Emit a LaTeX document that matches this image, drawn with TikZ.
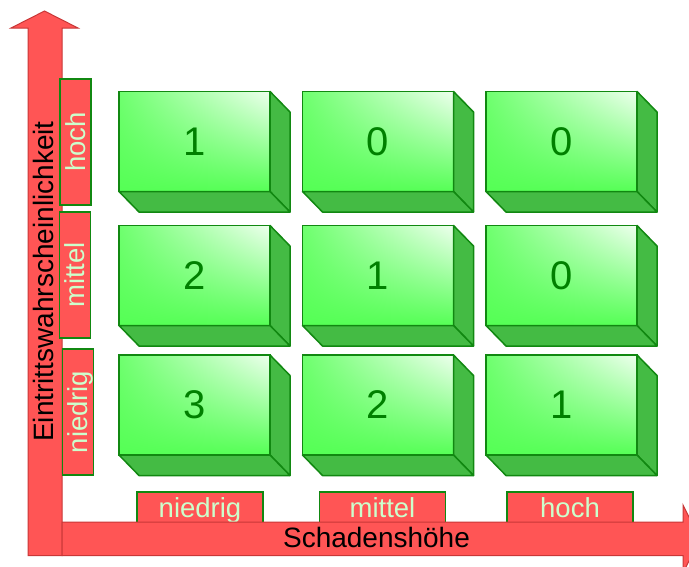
\documentclass[tikz,border=0pt]{standalone}
\usepackage{fontspec}
\setmainfont{Liberation Sans}
\usetikzlibrary{positioning,calc,shadings}
\definecolor{axisred}{HTML}{FF5555}
\definecolor{axisline}{HTML}{C83737}
\definecolor{boxline}{HTML}{118811}
\definecolor{boxside}{HTML}{44BB44}
\definecolor{boxlight}{HTML}{55FF55}
\definecolor{boxglow}{HTML}{EEFFEE}
\definecolor{labeltext}{HTML}{CCFFCC}
\definecolor{numtext}{HTML}{008000}

\begin{document}
\begin{tikzpicture}[
  x=1pt, y=-1pt,
  every node/.style={inner sep=0pt, outer sep=0pt},
  axis/.style={fill=axisred, draw=axisline, line width=1pt},
  axislabel/.style={text height=20pt, text depth=0pt, font=\fontsize{28}{30}\selectfont, text=black},
  level/.style={rectangle, fill=axisred, draw=boxline, line width=1.5pt,
    minimum width=126pt, minimum height=31pt, text height=19.5pt, text depth=0pt,
    font=\fontsize{27.5}{30}\selectfont, text=labeltext},
  front/.style={rectangle, draw=boxline, line width=1.5pt, shade,
    upper left=boxlight!85!white, upper right=boxglow, lower left=boxlight, lower right=boxlight,
    minimum width=151pt, minimum height=100pt, font=\fontsize{40}{44}\selectfont, text=numtext},
  side/.style={fill=boxside, draw=boxline, line width=1.5pt, line join=round},
]
\useasboundingbox (0,0) rectangle (689,566);

% Vertical axis
\filldraw[axis] (28,555.5) -- (28,28) -- (11,28) -- (44.5,11) -- (78,28) -- (62,28) -- (62,555.5) -- cycle;

% Probability levels
\node[level, rotate=90] (yhoch) at (75.5,142) {hoch};
\node[level, rotate=90] (ymittel) at (75,275) {mittel};
\node[level, rotate=90] (yniedrig) at (78,412) {niedrig};

% Damage levels
\node[level] (xniedrig) at (200,507.5) {niedrig};
\node[level] (xmittel) at (382.5,507.5) {mittel};
\node[level] (xhoch) at (570,507.5) {hoch};

% Horizontal axis
\filldraw[axis] (62,522) -- (683,522) -- (683,505) -- (700,539) -- (683,573) -- (683,555.5) -- (62,555.5) -- cycle;

% Risk boxes
\node[front] (h1) at (194.5,141.5) {1};
\node[front, right=32.5pt of h1] (h2) {0};
\node[front, right=32.5pt of h2] (h3) {0};
\node[front] (m1) at (194.5,275.5) {2};
\node[front, right=32.5pt of m1] (m2) {1};
\node[front, right=32.5pt of m2] (m3) {0};
\node[front] (n1) at (194.5,405) {3};
\node[front, right=32.5pt of n1] (n2) {2};
\node[front, right=32.5pt of n2] (n3) {1};

\foreach \b in {h1,h2,h3,m1,m2,m3,n1,n2,n3} {
  \filldraw[side] (\b.north east) -- ++(20,20.5) -- ($(\b.south east)+(20,20.5)$) -- (\b.south east) -- cycle;
  \filldraw[side] (\b.south west) -- (\b.south east) -- ++(20,20.5) -- ($(\b.south west)+(20,20.5)$) -- cycle;
}

% Axis titles
\node[axislabel, rotate=90] (ytitle) at (43,281.5) {Eintrittswahrscheinlichkeit};
\node[axislabel] (xtitle) at (376.5,537) {Schadenshöhe};
\end{tikzpicture}
\end{document}
